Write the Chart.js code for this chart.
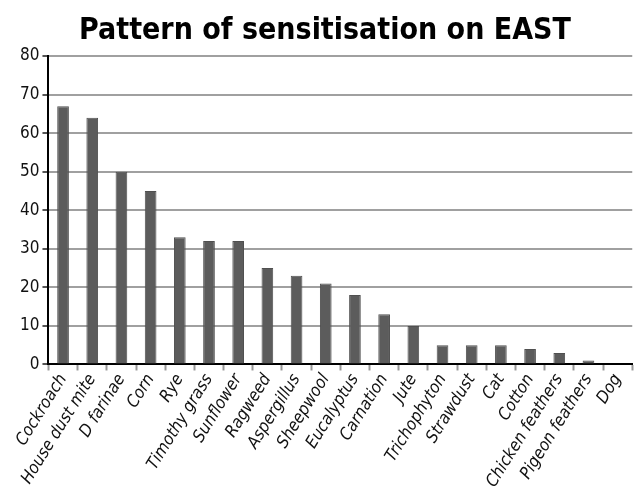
<!DOCTYPE html>
<html>
<head>
<meta charset="utf-8">
<script src="https://cdn.jsdelivr.net/npm/chart.js@4"></script>
<style>
    body { margin: 0; background: #fff; }
    #wrap { width: 635px; height: 493px; }
</style>
</head>
<body>
<div id="wrap"><canvas id="grafico"></canvas></div>
<script>
// Datos
const alergenos = ["Cockroach", "House dust mite", "D farinae", "Corn", "Rye", "Timothy grass",
    "Sunflower", "Ragweed", "Aspergillus", "Sheepwool", "Eucalyptus", "Carnation", "Jute",
    "Trichophyton", "Strawdust", "Cat", "Cotton", "Chicken feathers", "Pigeon feathers", "Dog"];
const valores = [67, 64, 50, 45, 33, 32, 32, 25, 23, 21, 18, 13, 10, 5, 5, 5, 4, 3, 1, 0];
const titulo = "Pattern of sensitisation on EAST";

const fuente = "'DejaVu Sans Condensed', 'Liberation Sans Narrow', sans-serif";

new Chart(document.getElementById("grafico"), {
    type: 'bar',
    data: {
        labels: alergenos,
        datasets: [{
            data: valores,
            backgroundColor: '#5c5c5c',
            borderColor: '#505050',
            borderWidth: 1,
            barPercentage: 0.4,
            categoryPercentage: 1
        }]
    },
    options: {
        responsive: true,
        maintainAspectRatio: false,
        animation: false,
        layout: { padding: { left: 17, right: 2, top: 0, bottom: 2 } },
        plugins: {
            legend: { display: false },
            tooltip: { enabled: false },
            title: {
                display: true,
                text: titulo,
                color: '#000',
                font: { family: fuente, size: 30, weight: 'bold' },
                padding: { top: 13, bottom: 7 }
            }
        },
        scales: {
            x: {
                grid: {
                    drawOnChartArea: false,
                    tickLength: 6,
                    tickColor: '#999',
                    tickWidth: 2
                },
                border: { color: '#000', width: 2 },
                ticks: {
                    color: '#111',
                    minRotation: 58,
                    maxRotation: 58,
                    autoSkip: false,
                    padding: 0,
                    font: { family: fuente, size: 17, style: 'italic' }
                }
            },
            y: {
                min: 0,
                max: 80,
                grid: {
                    color: '#a0a0a0',
                    lineWidth: 2,
                    tickLength: 6,
                    tickColor: '#555'
                },
                border: { color: '#000', width: 2 },
                ticks: {
                    stepSize: 10,
                    color: '#111',
                    padding: 3,
                    font: { family: fuente, size: 17 }
                }
            }
        }
    }
});
</script>
</body>
</html>
